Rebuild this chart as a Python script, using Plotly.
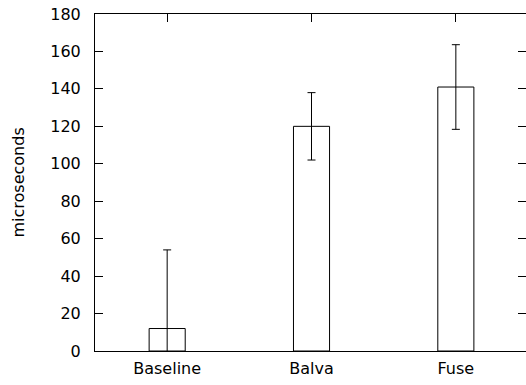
import plotly.graph_objects as go

categories = ["Baseline", "Balva", "Fuse"]
values = [12, 120, 141]
errors = [42, 18, 22.6]
y_ticks = [0, 20, 40, 60, 80, 100, 120, 140, 160, 180]

positions = list(range(len(categories)))
xr = [-0.5, 2.486]
font = dict(family="DejaVu Sans", size=16, color="black")

fig = go.Figure()
fig.add_trace(go.Bar(
    x=positions, y=values, width=0.25,
    marker=dict(color="white", line=dict(color="black", width=1)),
    error_y=dict(type="data", array=errors, visible=True, color="black", thickness=1, width=4),
    showlegend=False, hoverinfo="skip",
))
fig.add_trace(go.Scatter(x=positions, y=values, xaxis="x2", yaxis="y",
                         mode="markers", marker=dict(opacity=0), showlegend=False, hoverinfo="skip"))

fig.update_layout(
    width=526, height=385,
    margin=dict(l=95, r=0, t=14, b=34, autoexpand=False),
    paper_bgcolor="white", plot_bgcolor="white",
    font=font,
    # main x axis carries the top (inward) ticks and the frame
    xaxis=dict(range=xr, tickvals=positions, side="top", ticks="inside", ticklen=8,
               tickcolor="black", tickwidth=1, showticklabels=False,
               showline=True, linecolor="black", linewidth=1, mirror=True, automargin=False,
               showgrid=False, zeroline=False),
    yaxis=dict(range=[0, 180], tickvals=y_ticks, ticks="inside", ticklen=8, tickcolor="black",
               tickwidth=1, showline=True, linecolor="black", linewidth=1, mirror="ticks",
               showgrid=False, zeroline=False, ticklabelstandoff=10, automargin=False,
               ticklabeloverflow="allow"),
    # overlay x axis carries the category labels at the bottom
    xaxis2=dict(range=xr, overlaying="x", anchor="y", side="bottom",
                tickvals=positions, ticktext=categories, ticks="",
                showline=False, showgrid=False, zeroline=False,
                automargin=False, ticklabelstandoff=6),
    annotations=[dict(text="microseconds", textangle=-90, xref="paper", yref="paper",
                      x=0, y=0.5, xshift=-77, xanchor="center", yanchor="middle",
                      showarrow=False, font=font)],
)

fig.write_html(
    "out.html",
    config={"displayModeBar": False},
    post_script=("document.body.style.margin='0';"
                 "document.documentElement.style.overflow='hidden';"
                 "document.body.style.overflow='hidden';"),
)
